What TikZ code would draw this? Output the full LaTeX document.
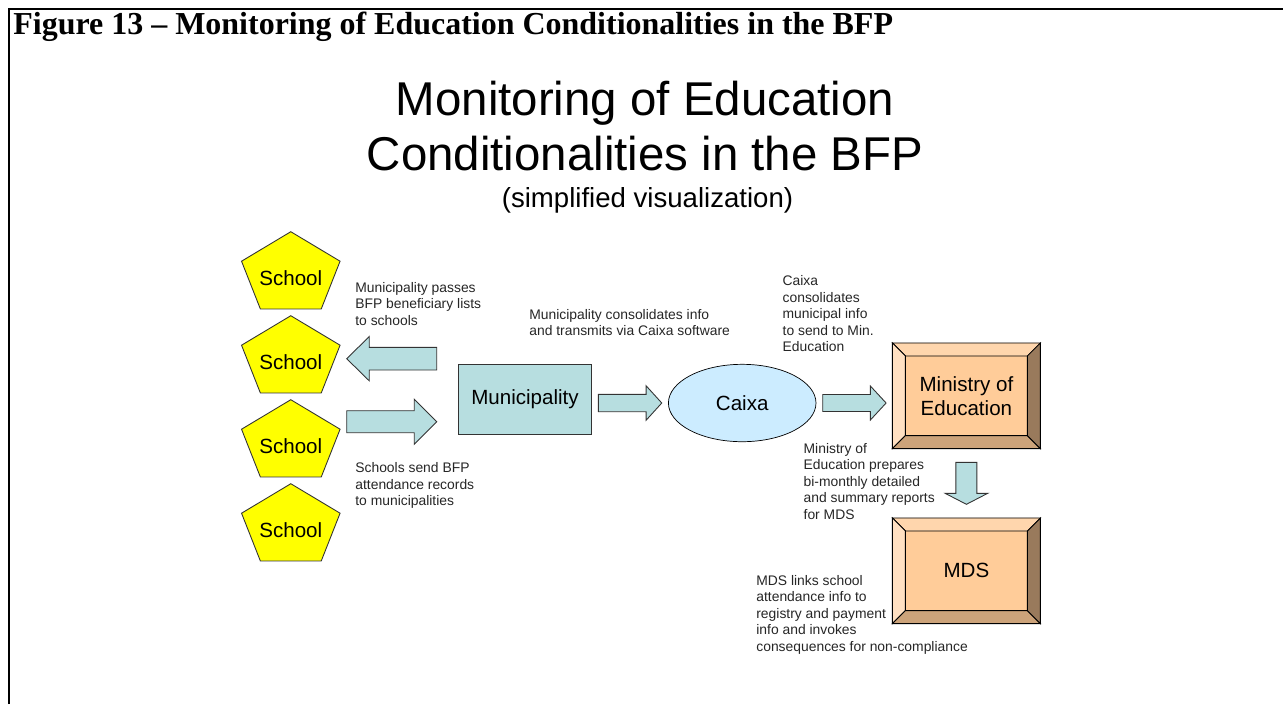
\documentclass[tikz,border=0pt]{standalone}
\usepackage{fontspec}
\setmainfont{Liberation Serif}
\newfontfamily\arialfont{Liberation Sans}
\usepackage{tikz}
\usetikzlibrary{shapes}
\usetikzlibrary{calc}
\usepackage{xcolor}
\definecolor{schoolyellow}{HTML}{FFFF00}
\definecolor{arrowteal}{HTML}{B7DEE0}
\definecolor{caixablue}{HTML}{CCECFF}
\definecolor{bevelface}{HTML}{FFCC99}
\definecolor{beveltop}{HTML}{FFD6AD}
\definecolor{bevelleft}{HTML}{FFE0C2}
\definecolor{bevelbottom}{HTML}{CCA37A}
\definecolor{bevelright}{HTML}{997A5C}
\definecolor{edgegray}{HTML}{333333}

% block arrow: centre, rotation, half length, half shaft, half head, head length
\newcommand{\blockarrow}[6]{%
  \draw[flowarrow, shift={(#1)}, rotate=#2] (-#3,-#4) -- ({#3-#6},-#4) -- ({#3-#6},-#5)
    -- (#3,0) -- ({#3-#6},#5) -- ({#3-#6},#4) -- (-#3,#4) -- cycle;}

% raised sides of a box node
\newcommand{\bevelsides}[1]{%
  \draw[bevelside, fill=beveltop] (#1.north west) -- (#1.north east) -- ($(#1.north east)+(-13,13)$) -- ($(#1.north west)+(13,13)$) -- cycle;
  \draw[bevelside, fill=bevelleft] (#1.north west) -- ($(#1.north west)+(13,13)$) -- ($(#1.south west)+(13,-13)$) -- (#1.south west) -- cycle;
  \draw[bevelside, fill=bevelbottom] (#1.south west) -- ($(#1.south west)+(13,-13)$) -- ($(#1.south east)+(-13,-13)$) -- (#1.south east) -- cycle;
  \draw[bevelside, fill=bevelright] (#1.north east) -- (#1.south east) -- ($(#1.south east)+(-13,-13)$) -- ($(#1.north east)+(-13,13)$) -- cycle;}

\begin{document}
\begin{tikzpicture}[x=0.02cm, y=-0.02cm,
  every node/.style={inner sep=0pt},
  boxtext/.style={font=\arialfont\fontsize{11.7}{13.8}\selectfont, align=center},
  note/.style={font=\arialfont\fontsize{7.9}{9.4}\selectfont, align=left, anchor=west, text=black!85},
  schoolshape/.style={draw=edgegray, fill=schoolyellow, line width=0.5pt},
  flowarrow/.style={draw=edgegray, fill=arrowteal, line width=0.5pt},
  bevelside/.style={draw=black, line width=0.5pt},
  frameline/.style={line width=1.1pt}]
\useasboundingbox (0,0) rectangle (1283,704);

% frame and headings
\draw[frameline] (9,704) -- (9,9) -- (1283,9);
\node[anchor=base west, font=\bfseries\fontsize{18.2}{20}\selectfont] (header) at (13,34)
  {Figure 13 \textendash{} Monitoring of Education Conditionalities in the BFP};
\node[anchor=base, font=\arialfont\fontsize{27}{31.2}\selectfont, align=center] (maintitle) at (645,170)
  {Monitoring of Education\\Conditionalities in the BFP};
\node[anchor=base, font=\arialfont\fontsize{15.7}{18}\selectfont] (subtitle) at (647.5,207)
  {(simplified visualization)};

% schools
\foreach \i in {1,...,4} {
  \pgfmathsetmacro{\cy}{274.4+84*(\i-1)}
  \draw[schoolshape] (290.8,\cy) +(-90:51.8 and 42.7) -- +(-18:51.8 and 42.7)
    -- +(54:51.8 and 42.7) -- +(126:51.8 and 42.7) -- +(198:51.8 and 42.7) -- cycle;
  \node[boxtext] (school\i) at (290.8,\cy+4.1) {School};
}

% main chain
\node[boxtext, draw=edgegray, fill=arrowteal, minimum width=26.68mm, minimum height=13.92mm] (muni) at (525,399.5) {Municipality};
\node[boxtext, ellipse, draw=black, fill=caixablue, minimum width=29.52mm, minimum height=15.48mm] (caixa) at (742.2,403) {Caixa};
\node[boxtext, draw=black, fill=bevelface, minimum width=29.46mm, minimum height=21mm] (ministry) at (966.4,395.8) {Ministry of\\Education};
\node[boxtext, draw=black, fill=bevelface, minimum width=29.46mm, minimum height=21mm] (mds) at (966.4,570.8) {MDS};
\bevelsides{ministry}
\bevelsides{mds}

% arrows
\coordinate (toschools) at (391.7,358.7);
\coordinate (tomuni) at (391.7,421.7);
\coordinate (tocaixa) at ($(muni.east |- caixa.west)!0.5!(caixa.west)$);
\coordinate (toministry) at ($(caixa.east)!0.5!(caixa.east -| ministry.west)$);
\coordinate (tomds) at ($(ministry.south)!0.5!(mds.north)$);
\blockarrow{toschools}{180}{45}{11.3}{22.2}{22.6}
\blockarrow{tomuni}{0}{45}{11}{22.5}{22.4}
\blockarrow{tocaixa}{0}{31.7}{8.7}{17.3}{15.7}
\blockarrow{toministry}{0}{31.7}{8.5}{17}{15.7}
\blockarrow{tomds}{-90}{21}{10.5}{21.3}{11}

% notes
\node[note] (passnote) at (355,303.8) {Municipality passes\\BFP beneficiary lists\\to schools};
\node[note] (sendnote) at (355,485.5) {Schools send BFP\\attendance records\\to municipalities};
\node[note] (muninote) at (529,322.7) {Municipality consolidates info\\and transmits via Caixa software};
\node[note] (caixanote) at (782.3,313.7) {Caixa\\consolidates\\municipal info\\to send to Min.\\Education};
\node[note] (mecnote) at (803.3,481.3) {Ministry of\\Education prepares\\bi-monthly detailed\\and summary reports\\for MDS};
\node[note] (mdsnote) at (756,614.5) {MDS links school\\attendance info to\\registry and payment\\info and invokes\\consequences for non-compliance};
\end{tikzpicture}
\end{document}
